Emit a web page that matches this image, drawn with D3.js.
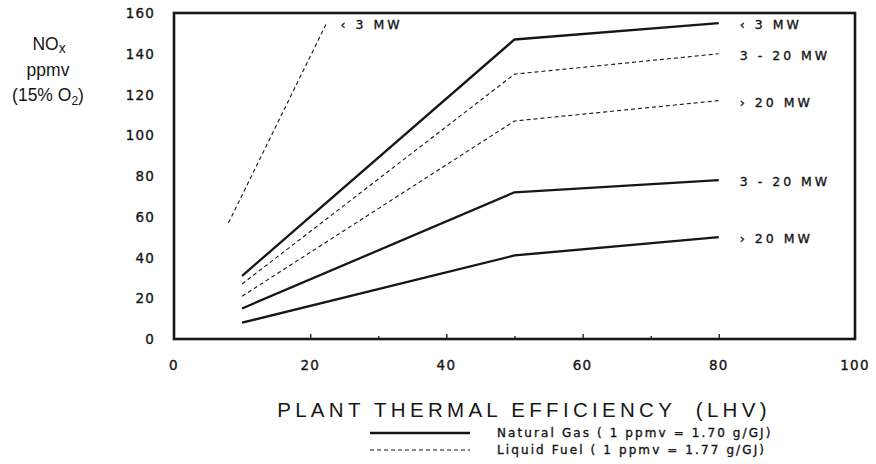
<!DOCTYPE html>
<html>
<head>
<meta charset="utf-8">
<script src="https://cdn.jsdelivr.net/npm/d3@7"></script>
<style>
  html, body { margin: 0; padding: 0; background: #fff; }
  svg { display: block; font-family: "DejaVu Sans", "Liberation Sans", Arial, sans-serif; }
  .pre { white-space: pre; }
  .ink { fill: #161616; stroke: #161616; stroke-width: 0.35px; }
</style>
</head>
<body>
<svg id="chart" width="876" height="464"></svg>
<script>
// Plant thermal efficiency (LHV, %) at the break points of each curve
const efficiency = [10, 50, 80];

// Natural gas NOx limits (ppmv @ 15% O2)
const gasUnder3 = [31, 147, 155];
const gas3to20 = [15, 72, 78];
const gasOver20 = [8, 41, 50];

// Liquid fuel NOx limits (ppmv @ 15% O2)
const liquid3to20 = [27, 130, 140];
const liquidOver20 = [21, 107, 117];
const liquidUnder3Eff = [8, 22.4];
const liquidUnder3 = [57, 155];

const xTicks = [0, 20, 40, 60, 80, 100];
const xMinorTicks = [30, 50, 70];
const yTicks = [0, 20, 40, 60, 80, 100, 120, 140, 160];

const seriesLabels = ["\u2039 3 MW", "3 - 20 MW", "\u203A 20 MW", "3 - 20 MW", "\u203A 20 MW"];
const legendLabels = ["Natural Gas ( 1 ppmv = 1.70 g/GJ)", "Liquid Fuel ( 1 ppmv = 1.77 g/GJ)"];

const svg = d3.select("#chart");
const x = d3.scaleLinear().domain([0, 100]).range([174, 855]);
const y = d3.scaleLinear().domain([0, 160]).range([339, 13]);
const ink = "#161616";

// plot frame
svg.append("rect")
  .attr("x", x(0)).attr("y", y(160))
  .attr("width", x(100) - x(0)).attr("height", y(0) - y(160))
  .attr("fill", "none").attr("stroke", ink).attr("stroke-width", 2.6);

// inward ticks on the bottom edge
const xAxisMajor = d3.axisTop(x).tickValues([20, 40, 60, 80]).tickSize(5).tickFormat("");
const xAxisMinor = d3.axisTop(x).tickValues(xMinorTicks).tickSize(3).tickFormat("");
[xAxisMajor, xAxisMinor].forEach(ax => {
  const g = svg.append("g").attr("transform", `translate(0,${y(0)})`).call(ax);
  g.select(".domain").remove();
  g.selectAll("line").attr("stroke", ink).attr("stroke-width", 1.3);
});

// tick labels
svg.append("g").selectAll("text").data(xTicks).join("text")
  .attr("class", "ink")
  .attr("x", d => x(d)).attr("y", 370)
  .attr("text-anchor", "middle")
  .attr("font-size", 13.5).attr("letter-spacing", 1.2)
  .text(d => d);

svg.append("g").selectAll("text").data(yTicks).join("text")
  .attr("class", "ink")
  .attr("x", 155).attr("y", d => y(d) + 5)
  .attr("text-anchor", "end")
  .attr("font-size", 13.5).attr("letter-spacing", 1.2)
  .text(d => d);

// y-axis title
const yTitle = svg.append("g").attr("fill", ink).attr("font-size", 17.5)
  .attr("font-family", "Liberation Sans, Arial, sans-serif").attr("text-anchor", "middle");
const t1 = yTitle.append("text").attr("x", 49).attr("y", 50);
t1.append("tspan").text("NO");
t1.append("tspan").attr("font-size", 14).attr("dy", 3).text("x");
yTitle.append("text").attr("x", 48).attr("y", 76).text("ppmv");
const t3 = yTitle.append("text").attr("x", 48).attr("y", 101);
t3.append("tspan").text("(15% O");
t3.append("tspan").attr("font-size", 12).attr("dy", 4).text("2");
t3.append("tspan").attr("dy", -4).text(")");

// x-axis title
svg.append("text")
  .attr("class", "pre")
  .attr("x", 524).attr("y", 417)
  .attr("text-anchor", "middle")
  .attr("font-family", "Liberation Sans, Arial, sans-serif")
  .attr("font-size", 20.5).attr("letter-spacing", 4.3).attr("fill", ink)
  .text("PLANT THERMAL EFFICIENCY  (LHV)");

// curves
const line = d3.line().x(d => x(d[0])).y(d => y(d[1]));
const solid = { stroke: ink, width: 2.3, dash: null };
const dashed = { stroke: ink, width: 1.1, dash: "4,3" };

const curves = [
  { xs: efficiency, ys: gasUnder3, style: solid, label: seriesLabels[0], gap: 21 },
  { xs: efficiency, ys: liquid3to20, style: dashed, label: seriesLabels[1], gap: 21 },
  { xs: efficiency, ys: liquidOver20, style: dashed, label: seriesLabels[2], gap: 21 },
  { xs: efficiency, ys: gas3to20, style: solid, label: seriesLabels[3], gap: 21 },
  { xs: efficiency, ys: gasOver20, style: solid, label: seriesLabels[4], gap: 21 },
  { xs: liquidUnder3Eff, ys: liquidUnder3, style: dashed, label: seriesLabels[0], gap: 14 }
];

curves.forEach(c => {
  const pts = c.xs.map((v, i) => [v, c.ys[i]]);
  svg.append("path")
    .attr("d", line(pts))
    .attr("fill", "none")
    .attr("stroke", c.style.stroke)
    .attr("stroke-width", c.style.width)
    .attr("stroke-dasharray", c.style.dash)
    .attr("stroke-linejoin", "round");
  const last = pts[pts.length - 1];
  svg.append("text")
    .attr("class", "ink")
    .attr("x", x(last[0]) + c.gap).attr("y", y(last[1]) + 6)
    .attr("font-size", 12.5).attr("letter-spacing", 3.0)
    .text(c.label);
});

// legend
const legend = svg.append("g");
[solid, dashed].forEach((s, i) => {
  const ly = 433 + i * 17;
  legend.append("line")
    .attr("x1", 370).attr("x2", 470).attr("y1", ly).attr("y2", ly)
    .attr("stroke", s.stroke).attr("stroke-width", s.width)
    .attr("stroke-dasharray", s.dash);
  legend.append("text")
    .attr("class", "ink")
    .attr("x", 497).attr("y", ly + 4)
    .attr("font-size", 12).attr("letter-spacing", 2.1)
    .text(legendLabels[i]);
});
</script>
</body>
</html>
